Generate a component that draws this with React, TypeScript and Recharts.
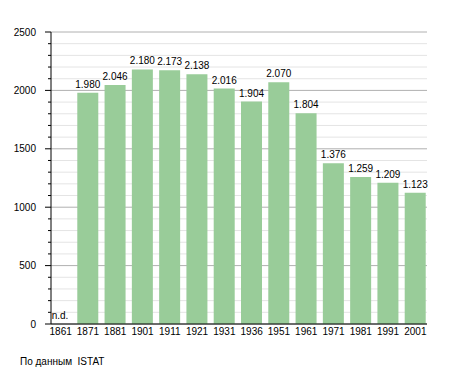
import React from 'react'
import { BarChart, Bar, XAxis, YAxis, CartesianGrid, LabelList, ReferenceDot } from 'recharts'

const years = ['1861', '1871', '1881', '1901', '1911', '1921', '1931', '1936', '1951', '1961', '1971', '1981', '1991', '2001']
const population = [0, 1980, 2046, 2180, 2173, 2138, 2016, 1904, 2070, 1804, 1376, 1259, 1209, 1123]
const yTicks = Array.from({ length: 26 }, (_, i) => i * 100)
const majorTicks = [0, 500, 1000, 1500, 2000, 2500]

const data = years.map((year, i) => ({ year, value: population[i] }))

const FONT = '"Liberation Sans", Arial, sans-serif'

const fmt = (v: number) => {
  const s = String(v)
  return s.length > 3 ? s.slice(0, s.length - 3) + '.' + s.slice(-3) : s
}

const YTick = (props: any) => {
  const { x, y, payload } = props
  const major = majorTicks.includes(payload.value)
  return (
    <g>
      <line x1={x - (major ? 6 : 3)} x2={x} y1={y} y2={y} stroke="#000" />
      {major && (
        <text x={x - 15} y={y + 3.5} textAnchor="end" fontSize={10} fontFamily={FONT} fill="#000">
          {payload.value}
        </text>
      )}
    </g>
  )
}

const XTick = (props: any) => {
  const { x, y, payload } = props
  return (
    <text x={x} y={y + 11} textAnchor="middle" fontSize={10} fontFamily={FONT} fill="#000">
      {payload.value}
    </text>
  )
}

const GridLine = (props: any) => {
  const { x1, x2, y1, y2, index } = props
  const major = index % 5 === 0
  return <line x1={x1} x2={x2} y1={y1} y2={y2} stroke={major ? '#b0b0b0' : '#e4e4e4'} strokeWidth={1} />
}

const TopLabel = (props: any) => {
  const { x, y, width, value } = props
  if (!value) return null
  return (
    <text x={x + width / 2} y={y - 5} textAnchor="middle" fontSize={10} fontFamily={FONT} fill="#000">
      {fmt(value)}
    </text>
  )
}

const NdLabel = (props: any) => {
  const { viewBox } = props
  return (
    <text x={viewBox.x - 9} y={viewBox.y - 5} fontSize={10} fontFamily={FONT} fill="#000">
      n.d.
    </text>
  )
}

export default function App() {
  return (
    <div style={{ position: 'absolute', left: 0, top: 0, width: 455, height: 373, background: '#fff' }}>
      <BarChart
        width={455}
        height={373}
        data={data}
        margin={{ top: 32, right: 28, left: 0, bottom: 29 }}
        barCategoryGap={3}
      >
        <CartesianGrid vertical={false} horizontal={GridLine as any} />
        <XAxis
          dataKey="year"
          tick={<XTick />}
          tickLine={false}
          tickSize={0}
          tickMargin={0}
          axisLine={{ stroke: '#000' }}
          height={20}
          interval={0}
          padding={{ left: -4, right: -2 }}
        />
        <YAxis
          domain={[0, 2500]}
          ticks={yTicks}
          interval={0}
          tick={<YTick />}
          tickLine={false}
          tickSize={0}
          tickMargin={0}
          axisLine={{ stroke: '#000' }}
          width={51}
        />
        <Bar dataKey="value" fill="#99cc99" isAnimationActive={false}>
          <LabelList dataKey="value" content={<TopLabel />} />
        </Bar>
        <ReferenceDot x="1861" y={0} r={0} fill="none" stroke="none" label={<NdLabel />} />
      </BarChart>
      <div style={{ position: 'absolute', left: 20, top: 356, fontSize: 10, fontFamily: FONT, color: '#000' }}>
        По данным&nbsp; ISTAT
      </div>
    </div>
  )
}
